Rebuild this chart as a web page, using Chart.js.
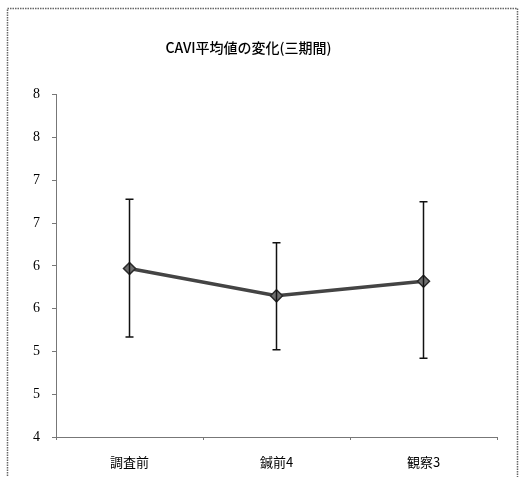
<!DOCTYPE html>
<html>
<head>
<meta charset="utf-8">
<script src="https://cdn.jsdelivr.net/npm/chart.js@4.4.1/dist/chart.umd.min.js"></script>
<style>
  html, body { margin: 0; padding: 0; background: #fff; }
  #wrap { width: 520px; height: 477px; }
</style>
</head>
<body>
<div id="wrap"><canvas id="cavi"></canvas></div>
<script>
// データ
const categories = ['調査前', '鍼前4', '観察3'];
const means = [5.97, 5.65, 5.82];
const errHigh = [6.78, 6.27, 6.75];
const errLow = [5.17, 5.02, 4.92];
const yTickValues = [4, 4.5, 5, 5.5, 6, 6.5, 7, 7.5, 8];
const yTickLabels = ['4', '5', '5', '6', '6', '7', '7', '8', '8'];

// 枠線
const framePlugin = {
  id: 'frame',
  beforeDraw(chart) {
    const ctx = chart.ctx;
    ctx.save();
    ctx.strokeStyle = '#666';
    ctx.lineWidth = 1.5;
    ctx.setLineDash([1.5, 1]);
    ctx.strokeRect(7.5, 8.5, 510, 480);
    ctx.restore();
  }
};

// 誤差範囲
const errorBarPlugin = {
  id: 'errorBars',
  afterDatasetsDraw(chart) {
    const ctx = chart.ctx;
    const x = chart.scales.x;
    const y = chart.scales.y;
    ctx.save();
    ctx.strokeStyle = '#111';
    ctx.lineWidth = 1.5;
    categories.forEach((c, i) => {
      const px = x.getPixelForValue(i);
      const top = y.getPixelForValue(errHigh[i]);
      const bot = y.getPixelForValue(errLow[i]);
      ctx.beginPath();
      ctx.moveTo(px, top); ctx.lineTo(px, bot);
      ctx.moveTo(px - 4, top); ctx.lineTo(px + 4, top);
      ctx.moveTo(px - 4, bot); ctx.lineTo(px + 4, bot);
      ctx.stroke();
    });
    ctx.restore();
  }
};

new Chart(document.getElementById('cavi'), {
  type: 'line',
  data: {
    labels: categories,
    datasets: [{
      data: means,
      borderColor: '#444',
      borderWidth: 3.5,
      pointStyle: 'rectRot',
      pointRadius: 6,
      pointBackgroundColor: '#6e6e6e',
      pointBorderColor: '#2a2a2a',
      pointBorderWidth: 1.5,
      tension: 0
    }]
  },
  options: {
    responsive: true,
    maintainAspectRatio: false,
    animation: false,
    layout: { padding: { left: 0, right: 23, top: 0, bottom: 0 } },
    plugins: {
      legend: { display: false },
      tooltip: { enabled: false },
      title: {
        display: true,
        text: 'CAVI平均値の変化(三期間)',
        color: '#000',
        font: { family: '"Noto Sans CJK JP", sans-serif', size: 14, weight: '500' },
        padding: { top: 39, bottom: 39 }
      }
    },
    scales: {
      x: {
        offset: true,
        grid: { display: true, drawOnChartArea: false, offset: true, tickLength: 3, color: '#777' },
        border: { display: true, color: '#777', dash: [1, 1] },
        ticks: {
          color: '#000',
          padding: 14,
          font: { family: '"Noto Sans CJK JP", sans-serif', size: 13 }
        },
        afterFit(scale) { scale.height = 40; }
      },
      y: {
        min: 4,
        max: 8,
        afterBuildTicks(scale) { scale.ticks = yTickValues.map(v => ({ value: v })); },
        grid: { display: true, drawOnChartArea: false, tickLength: 4, color: '#777' },
        border: { display: true, color: '#777', dash: [1, 1] },
        ticks: {
          color: '#000',
          padding: 12,
          font: { family: '"Liberation Serif", serif', size: 14 },
          callback(value) {
            const i = yTickValues.indexOf(value);
            return i >= 0 ? yTickLabels[i] : '';
          }
        },
        afterFit(scale) { scale.width = 56; }
      }
    }
  },
  plugins: [framePlugin, errorBarPlugin]
});
</script>
</body>
</html>
